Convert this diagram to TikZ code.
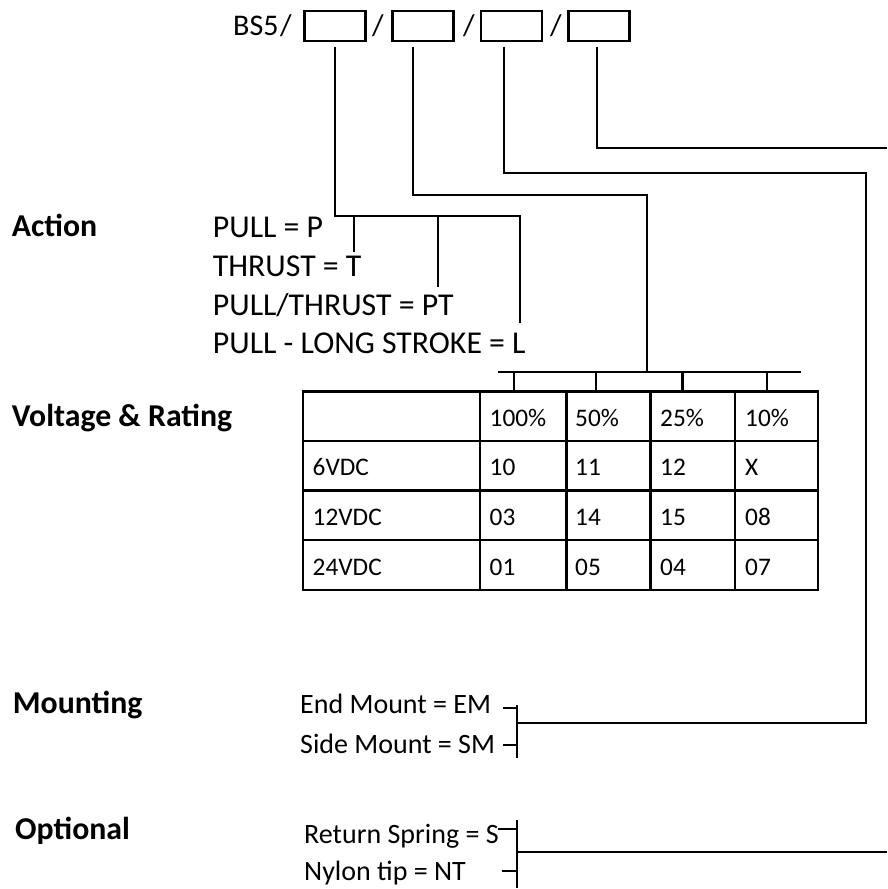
\documentclass[tikz,border=0pt]{standalone}
\usepackage{fontspec}
\setmainfont{Carlito}
\begin{document}
\begin{tikzpicture}[x=1pt,y=-1pt,
  conn/.style={line width=2.1pt},
  tbl/.style={line width=2.8pt},
  codebox/.style={draw, line width=2.3pt, minimum width=61pt, minimum height=29.5pt, inner sep=0pt},
  txt/.style={inner sep=0pt, anchor=base west, font=\fontsize{30}{36}\selectfont},
  act/.style={inner sep=0pt, anchor=base west, font=\fontsize{31.8}{38}\selectfont},
  lbl/.style={inner sep=0pt, anchor=base west, font=\fontsize{31.8}{38}\selectfont\bfseries},
  opt/.style={inner sep=0pt, anchor=base west, font=\fontsize{28}{34}\selectfont},
  cell/.style={inner sep=0pt, anchor=base west, font=\fontsize{25.3}{30}\selectfont}]
\useasboundingbox (0,0) rectangle (887,889);
% code line
\node[txt] (bs) at (233,35) {BS5};
\node[codebox] (b1) at (334.9,25.9) {};
\node[codebox] (b2) at (423,25.9) {};
\node[codebox] (b3) at (511.3,25.9) {};
\node[codebox] (b4) at (598.9,25.9) {};
\node[txt, anchor=base] (sl1) at (286,35) {/};
\node[txt, anchor=base] (sl2) at (378,35) {/};
\node[txt, anchor=base] (sl3) at (469,35) {/};
\node[txt, anchor=base] (sl4) at (556,35) {/};
% labels
\node[lbl] (lact) at (11.7,236.7) {Action};
\node[lbl] (lvolt) at (11.7,426.7) {Voltage \& Rating};
\node[lbl] (lmount) at (12.7,713.3) {Mounting};
\node[lbl] (lopt) at (15,839.3) {Optional};
% action list
\node[act] (a1) at (212.7,237.5) {PULL = P};
\node[act] (a2) at (212.7,276.5) {THRUST = T};
\node[act] (a3) at (212.7,315) {PULL/THRUST = PT};
\node[act] (a4) at (212.7,353) {PULL - LONG STROKE = L};
% connector coordinates
\coordinate (s1) at (335,46.7);
\coordinate (s2) at (412.7,46.7);
\coordinate (s3) at (504.3,46.7);
\coordinate (s4) at (596.7,46.7);
\coordinate (ac) at (335,215.7);
\coordinate (ae) at (520,215.7);
\coordinate (d1) at (354,251.7);
\coordinate (d2) at (438.3,287.3);
\coordinate (d3) at (520,322.7);
\coordinate (vc) at (412.7,195);
\coordinate (ve) at (646.7,195);
\coordinate (vb) at (646.7,371.7);
\coordinate (mc) at (504.3,173.3);
\coordinate (me) at (866,173.3);
\coordinate (md) at (866,722.7);
\coordinate (mj) at (517,722.7);
\coordinate (oc) at (596.7,147.7);
\coordinate (oe) at (887,147.7);
% action bracket
\draw[conn] (s1) -- (ac) -- (ae) -- (d3);
\draw[conn] (d1 |- ac) -- (d1);
\draw[conn] (d2 |- ac) -- (d2);
% voltage connector
\draw[conn] (s2) -- (vc) -- (ve) -- (vb);
% mounting connector
\draw[conn] (s3) -- (mc) -- (me) -- (md) -- (mj);
% optional connector
\draw[conn] (s4) -- (oc) -- (oe);
% table bus
\coordinate (busl) at (498.3,371.7);
\coordinate (busr) at (800.7,371.7);
\draw[conn] (busl) -- (busr);
\foreach \x/\n in {514.3/t1,596/t2,682.5/t3,767.3/t4}{
  \coordinate (\n) at (\x,391.5);
  \draw[conn] (\x,371.7) -- (\n);
}
% table
\draw[tbl] (303,391.5) rectangle (818,590);
\foreach \x in {480,566.5,650.5,735}{\draw[tbl] (\x,391.5) -- (\x,590);}
\foreach \y in {441,490.5,540}{\draw[tbl] (303,\y) -- (818,\y);}
\node[cell] (h1) at (489.5,426.5) {100\%};
\node[cell] (h2) at (575,426.5) {50\%};
\node[cell] (h3) at (660,426.5) {25\%};
\node[cell] (h4) at (745,426.5) {10\%};
\node[cell] (r1) at (312.5,475.5) {6VDC};
\node[cell] (r1a) at (489.5,475.5) {10};
\node[cell] (r1b) at (575,475.5) {11};
\node[cell] (r1c) at (660,475.5) {12};
\node[cell] (r1d) at (745,475.5) {X};
\node[cell] (r2) at (312.5,525.5) {12VDC};
\node[cell] (r2a) at (489.5,525.5) {03};
\node[cell] (r2b) at (575,525.5) {14};
\node[cell] (r2c) at (660,525.5) {15};
\node[cell] (r2d) at (745,525.5) {08};
\node[cell] (r3) at (312.5,575) {24VDC};
\node[cell] (r3a) at (489.5,575) {01};
\node[cell] (r3b) at (575,575) {05};
\node[cell] (r3c) at (660,575) {04};
\node[cell] (r3d) at (745,575) {07};
% mounting
\node[opt] (m1) at (300,713.3) {End Mount = EM};
\node[opt] (m2) at (300,753.3) {Side Mount = SM};
\coordinate (mt) at (517,705);
\coordinate (mb) at (517,758);
\draw[conn] (mt) -- (mb);
\draw[conn] (503,708) -- (517,708);
\draw[conn] (503,745) -- (517,745);
% optional
\node[opt] (o1) at (304,843.3) {Return Spring = S};
\node[opt] (o2) at (304,880) {Nylon tip = NT};
\coordinate (ot) at (517,820);
\coordinate (ob) at (517,888);
\coordinate (oj) at (517,851.7);
\coordinate (or) at (887,851.7);
\draw[conn] (ot) -- (ob);
\draw[conn] (498,829.3) -- (517,829.3);
\draw[conn] (501.7,870.7) -- (517,870.7);
\draw[conn] (oj) -- (or);
\end{tikzpicture}
\end{document}
